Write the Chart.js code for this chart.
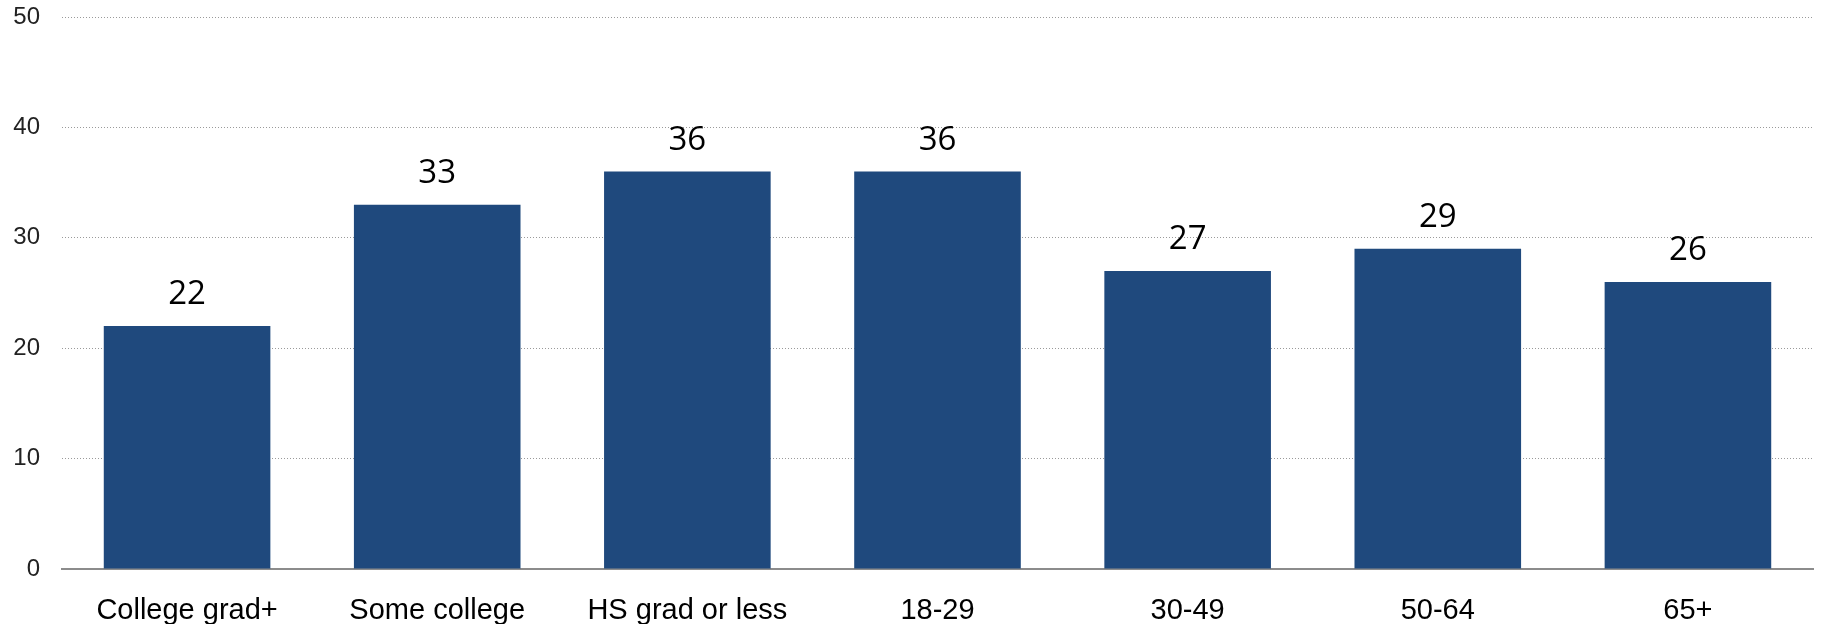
<!DOCTYPE html>
<html>
<head>
<meta charset="utf-8">
<script src="https://cdn.jsdelivr.net/npm/chart.js@4/dist/chart.umd.min.js"></script>
<style>
    html, body { margin: 0; padding: 0; background: #fff; }
    #wrap { width: 1824px; height: 624px; }
</style>
</head>
<body>
<div id="wrap"><canvas id="barChart"></canvas></div>
<script>
const categories = ['College grad+', 'Some college', 'HS grad or less', '18-29', '30-49', '50-64', '65+'];
const values = [22, 33, 36, 36, 27, 29, 26];
const yTicks = [0, 10, 20, 30, 40, 50];

// value labels above each bar
const valueLabels = {
    id: 'valueLabels',
    afterDatasetsDraw(chart) {
        const ctx = chart.ctx;
        const meta = chart.getDatasetMeta(0);
        ctx.save();
        ctx.font = '33px "Open Sans", "Noto Sans", sans-serif';
        ctx.fillStyle = '#000';
        ctx.textAlign = 'center';
        ctx.textBaseline = 'alphabetic';
        meta.data.forEach((bar, i) => {
            ctx.fillText(String(values[i]), bar.x, bar.y - 22);
        });
        ctx.restore();
    }
};

new Chart(document.getElementById('barChart'), {
    type: 'bar',
    data: {
        labels: categories,
        datasets: [{
            data: values,
            backgroundColor: '#1f497d',
            borderWidth: 0,
            categoryPercentage: 1,
            barPercentage: 0.666
        }]
    },
    options: {
        responsive: true,
        maintainAspectRatio: false,
        animation: false,
        layout: { padding: { top: 0, right: 11, left: 0, bottom: 0 } },
        plugins: { legend: { display: false }, tooltip: { enabled: false } },
        scales: {
            x: {
                grid: { display: false, drawTicks: false },
                border: { display: true, color: '#8c8c8c', width: 2 },
                ticks: {
                    color: '#000',
                    padding: 25,
                    maxRotation: 0,
                    font: { family: '"Liberation Sans", Arial, sans-serif', size: 29 }
                },
                afterFit(scale) { scale.height = 55; }
            },
            y: {
                min: 0,
                max: 50,
                afterBuildTicks(scale) { scale.ticks = yTicks.map(v => ({ value: v })); },
                grid: {
                    color: '#9a9a9a',
                    lineWidth: 1,
                    drawTicks: false
                },
                border: { display: false, dash: [1, 2] },
                ticks: {
                    color: '#222',
                    padding: 22,
                    font: { family: '"Liberation Sans", Arial, sans-serif', size: 24 }
                },
                afterFit(scale) {
                    scale.width = 62;
                    scale.paddingTop = 17;
                    scale.paddingBottom = 0;
                }
            }
        }
    },
    plugins: [valueLabels]
});
</script>
</body>
</html>
